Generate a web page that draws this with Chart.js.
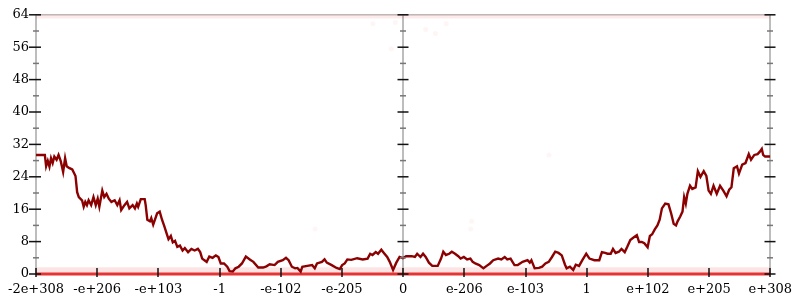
<!DOCTYPE html>
<html><head><meta charset="utf-8">
<script src="https://cdn.jsdelivr.net/npm/chart.js@4/dist/chart.umd.min.js"></script>
<style>html,body{margin:0;padding:0;background:#fff}canvas{display:block}</style>
</head><body>
<canvas id="c" width="800" height="300"></canvas>
<script>
const xTickLabels = ['-2e+308','-e+206','-e+103','-1','-e-102','-e-205','0','e-206','e-103','1','e+102','e+205','e+308'];
const xMin = -6, xMax = 6;
const yMin = 0, yMax = 64, yStep = 8;

const lineX = [-6.0,-5.856,-5.835,-5.808,-5.781,-5.755,-5.728,-5.701,-5.664,-5.632,-5.595,-5.557,-5.525,-5.499,-5.461,-5.408,-5.381,-5.355,-5.328,-5.301,-5.248,-5.221,-5.195,-5.168,-5.141,-5.099,-5.061,-5.024,-4.992,-4.965,-4.917,-4.885,-4.848,-4.811,-4.768,-4.715,-4.672,-4.635,-4.608,-4.555,-4.512,-4.475,-4.421,-4.384,-4.352,-4.331,-4.288,-4.224,-4.208,-4.181,-4.139,-4.117,-4.085,-4.048,-4.021,-3.979,-3.941,-3.904,-3.861,-3.835,-3.797,-3.765,-3.728,-3.691,-3.648,-3.605,-3.568,-3.515,-3.461,-3.408,-3.355,-3.317,-3.285,-3.248,-3.211,-3.168,-3.115,-3.061,-3.019,-2.981,-2.928,-2.875,-2.837,-2.784,-2.741,-2.688,-2.635,-2.571,-2.501,-2.448,-2.368,-2.288,-2.235,-2.181,-2.101,-2.048,-1.968,-1.915,-1.872,-1.819,-1.765,-1.728,-1.675,-1.648,-1.568,-1.488,-1.445,-1.408,-1.328,-1.285,-1.248,-1.168,-1.088,-1.035,-0.997,-0.955,-0.912,-0.848,-0.752,-0.661,-0.581,-0.539,-0.501,-0.448,-0.411,-0.357,-0.315,-0.261,-0.219,-0.165,-0.112,-0.059,-0.005,0.048,0.139,0.192,0.229,0.283,0.325,0.368,0.421,0.475,0.565,0.619,0.656,0.699,0.752,0.795,0.848,0.901,0.939,0.992,1.045,1.099,1.136,1.179,1.243,1.312,1.365,1.419,1.472,1.552,1.605,1.659,1.701,1.755,1.819,1.872,1.952,2.032,2.069,2.096,2.149,2.219,2.272,2.325,2.379,2.432,2.485,2.539,2.592,2.645,2.672,2.725,2.779,2.821,2.875,2.928,2.992,3.045,3.125,3.205,3.248,3.301,3.339,3.392,3.429,3.472,3.525,3.568,3.621,3.659,3.712,3.765,3.819,3.856,3.899,3.941,3.995,4.032,4.069,4.112,4.155,4.192,4.229,4.283,4.336,4.379,4.421,4.459,4.485,4.528,4.565,4.592,4.619,4.645,4.688,4.725,4.779,4.816,4.859,4.912,4.955,4.992,5.029,5.072,5.125,5.179,5.232,5.285,5.328,5.365,5.403,5.456,5.488,5.541,5.595,5.648,5.685,5.739,5.792,5.829,5.861,5.883,5.915,6.0];
const lineY = [29.4,29.4,26.6,27.9,26.5,28.6,27.4,29.0,28.2,29.4,27.8,25.2,28.6,26.6,26.2,25.8,25.0,24.2,20.2,19.0,18.2,16.6,17.8,17.0,18.2,17.0,19.0,17.0,18.6,16.6,20.6,19.0,19.8,18.6,17.8,18.2,17.0,18.2,15.8,17.0,17.8,16.2,17.0,16.2,17.4,16.6,18.5,18.5,17.0,13.4,13.0,13.8,12.2,13.8,15.0,15.4,13.4,11.8,9.8,8.6,9.4,7.8,8.2,6.7,7.0,5.8,6.4,5.4,6.2,5.8,6.2,5.4,3.8,3.4,3.0,4.3,4.0,4.6,4.2,2.6,2.6,1.8,0.7,0.6,1.4,1.8,2.6,4.3,3.5,3.0,1.6,1.6,1.9,2.4,2.2,3.0,3.4,4.0,3.4,1.8,1.4,1.5,0.6,1.8,2.0,2.2,1.4,2.6,3.0,3.6,2.8,2.2,1.5,1.2,2.2,2.6,3.6,3.5,3.9,3.6,3.8,5.0,4.7,5.4,5.0,6.0,5.2,4.2,3.0,1.0,2.8,4.2,3.9,4.4,4.4,4.2,5.0,4.2,5.0,4.2,2.8,2.0,2.0,3.8,5.5,4.7,5.0,5.5,5.0,4.4,3.8,4.2,3.6,3.8,3.0,2.6,2.2,1.4,2.0,2.6,3.4,3.8,3.6,4.2,3.6,3.8,2.2,2.2,3.0,3.4,2.8,3.4,1.4,1.5,1.8,2.6,3.0,4.2,5.5,5.2,4.6,2.3,1.4,1.8,1.0,2.3,2.0,3.4,5.0,3.8,3.4,3.4,5.4,5.2,5.0,5.0,6.2,5.2,5.5,6.2,5.4,6.6,8.4,9.0,9.6,7.9,7.9,7.6,6.6,9.4,9.8,11.0,12.0,13.4,16.2,17.4,17.2,15.0,12.4,12.0,13.0,14.2,15.4,19.0,17.4,19.8,21.8,21.0,21.4,25.4,24.0,25.4,24.2,20.6,19.8,21.8,19.8,21.8,20.6,19.2,20.8,21.4,26.1,26.6,24.8,27.0,27.4,29.6,28.2,29.4,29.6,30.2,30.9,29.4,29.0,29.0];

const floorX = [-6, 6];
const floorY = [0, 0];
const floorBandY = [0.9, 0.9];
const ceilBandY = [63.6, 63.6];
const strayX = [-1.44, 1.12, 1.104, 2.384, -0.496, -0.128, 0.368, 0.528, -0.192, 0.704];
const strayY = [11.1, 13.0, 11.1, 29.4, 61.8, 62.1, 60.4, 59.4, 55.6, 61.8];

const pts = (xs, ys) => xs.map((x, i) => ({x, y: ys[i]}));

function seg(ctx, x1, y1, x2, y2) { ctx.beginPath(); ctx.moveTo(x1, y1); ctx.lineTo(x2, y2); ctx.stroke(); }

const axesPlugin = {
  id: 'axesDeco',
  beforeDatasetsDraw(chart) {
    const {ctx, chartArea: a, scales: {x}} = chart;
    ctx.save();
    ctx.strokeStyle = '#bdbdbd';
    ctx.lineWidth = 2;
    for (const v of [xMin, 0, xMax]) {
      const px = Math.round(x.getPixelForValue(v));
      seg(ctx, px, a.top, px, a.bottom);
    }
    ctx.lineWidth = 1.5;
    seg(ctx, a.left, a.top, a.right, a.top);
    ctx.restore();
  },
  afterDatasetsDraw(chart) {
    const {ctx, chartArea: a, scales: {x, y}} = chart;
    ctx.save();
    const axes = [
      {px: Math.round(x.getPixelForValue(xMin)), ml: 7, mr: 5},
      {px: Math.round(x.getPixelForValue(0)), ml: 5.5, mr: 5.5},
      {px: Math.round(x.getPixelForValue(xMax)), ml: 5.5, mr: 5.5}
    ];
    for (let v = yMin; v <= yMax; v += yStep / 2) {
      const py = y.getPixelForValue(v);
      const major = (v % yStep) === 0;
      ctx.strokeStyle = major ? '#111' : '#777';
      ctx.lineWidth = 1.5;
      for (const ax of axes) {
        if (major) seg(ctx, ax.px - ax.ml, py, ax.px + ax.mr, py);
        else seg(ctx, ax.px - 3, py, ax.px + 3, py);
      }
    }
    ctx.strokeStyle = '#111';
    ctx.lineWidth = 1.5;
    for (let v = xMin; v <= xMax; v++) {
      const px = Math.round(x.getPixelForValue(v));
      seg(ctx, px, a.bottom - 6, px, a.bottom + 3);
    }
    ctx.restore();
  }
};

new Chart(document.getElementById('c'), {
  type: 'line',
  data: {
    datasets: [
      {data: pts(lineX, lineY), borderColor: '#8b0000', borderWidth: 2.4, pointRadius: 0, tension: 0, order: 0},
      {data: pts(floorX, floorY), borderColor: 'rgb(228,52,52)', borderWidth: 3, pointRadius: 0, clip: false, order: 1},
      {data: pts(floorX, floorBandY), borderColor: 'rgba(240,90,90,0.16)', borderWidth: 6, pointRadius: 0, clip: false, order: 2},
      {data: pts(floorX, ceilBandY), borderColor: 'rgba(240,70,70,0.11)', borderWidth: 4, pointRadius: 0, clip: false, order: 2},
      {type: 'scatter', data: pts(strayX, strayY), showLine: false, pointRadius: 2.5, borderWidth: 0, backgroundColor: 'rgba(240,80,80,0.06)', order: 3}
    ]
  },
  options: {
    responsive: false,
    animation: false,
    layout: {padding: {left: 0, right: 22, top: 8, bottom: 0}, autoPadding: false},
    plugins: {legend: {display: false}, tooltip: {enabled: false}},
    scales: {
      x: {
        type: 'linear', min: xMin, max: xMax,
        grid: {display: false, drawTicks: false}, border: {display: false},
        ticks: {stepSize: 1, autoSkip: false, maxRotation: 0, padding: 8, color: '#000',
          font: {family: 'DejaVu Serif', size: 13},
          callback: (v) => xTickLabels[Math.round(v) - xMin]},
        afterFit(s) { s.height = 26; }
      },
      y: {
        min: yMin, max: yMax,
        grid: {display: false, drawTicks: false}, border: {display: false},
        ticks: {stepSize: yStep, padding: 7, color: '#000', font: {family: 'DejaVu Serif', size: 13}},
        afterFit(s) { s.width = 28; }
      }
    }
  },
  plugins: [axesPlugin]
});
</script>
</body></html>
